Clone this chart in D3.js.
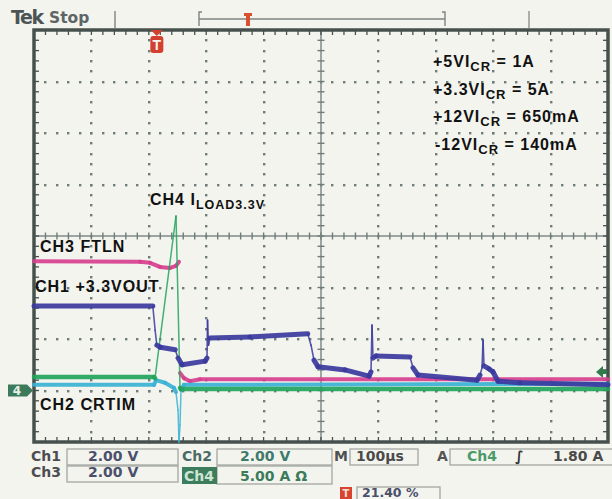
<!DOCTYPE html>
<html><head><meta charset="utf-8">
<script src="https://cdn.jsdelivr.net/npm/d3@7/dist/d3.min.js"></script>
<style>body{margin:0;background:#f4f4ee;}svg{display:block}</style>
</head><body><svg id="scope" width="612" height="499"></svg>
<script>
// Time in µs across the 10 divisions (100 µs/div), amplitude in screen divisions (-4..+4)
const ch1Time = [0,207,211,214,220,246,251,258,298,301.4,302.3,304,306.6,376,477,482.6,487.8,494.8,541.8,583.6,587.1,588.9,590.6,595.8,655,660.3,669,771.8,777,780.5,782.3,784,792.7,799.7,808.4,846.7,1000];
const ch1Div  = [-1.36,-1.36,-1.83,-2.12,-2.16,-2.21,-2.37,-2.5,-2.43,-2.37,-1.63,-2.12,-1.98,-1.96,-1.9,-2.12,-2.41,-2.54,-2.6,-2.72,-2.64,-1.73,-2.37,-2.33,-2.35,-2.56,-2.7,-2.8,-2.7,-2.56,-2.02,-2.52,-2.58,-2.64,-2.82,-2.85,-2.89];
const ch3Time = [0,184.7,202.1,219.5,237,247.4,252.6,253.5,254.4,261.3,271.8,289.2,1000];
const ch3Div  = [-0.49,-0.5,-0.52,-0.6,-0.62,-0.58,-0.5,NaN,-2.66,-2.76,-2.82,-2.78,-2.78];
const ch2Time = [0,209,212.5,228.2,243.9,247.4,250.9,252.6,254.4,256.1,261.3,1000];
const ch2Div  = [-2.89,-2.89,-2.8,-2.85,-2.95,-3.03,-3.38,-4.0,-3.67,-2.99,-2.89,-2.87];
const ch4Time = [0,209,210.8,247.4,254.4,256,1000];
const ch4Div  = [-2.74,-2.74,-2.76,0.39,-2.95,-2.97,-2.97];
const triggerPct = 21.40;
const ch4GroundDiv = -3;
const triggerLevelDiv = -3 + 1.80/5.00;
const timeDivs = d3.range(0, 1001, 100);
const ampDivs = d3.range(-4, 5, 1);

const svg = d3.select("#scope");
svg.append("rect").attr("width",612).attr("height",499).attr("fill","#f4f4ee");
const xs = d3.scaleLinear().domain([0,1000]).range([34,608]);
const ys = d3.scaleLinear().domain([-4,4]).range([442,30]);
const gridCol = "#6f7d7a";
const frameCol = "#46514e";

const minorT = d3.range(0, 1000.1, 20);
const minorA = d3.range(-20, 21, 1).map(k => k/5);

// grid dots
const dots = [];
timeDivs.filter(t => t>0 && t<1000 && t!==500).forEach(t => minorA.forEach(a => dots.push([t,a])));
ampDivs.filter(a => a>-4 && a<4 && a!==0).forEach(a => minorT.forEach(t => dots.push([t,a])));
const gridG = svg.append("g").attr("class","grid");
gridG.selectAll("rect.dot").data(dots).join("rect").attr("class","dot")
  .attr("x", d => Math.round(xs(d[0]))-1).attr("y", d => Math.round(ys(d[1]))-1).attr("width",2.4).attr("height",2.4).attr("fill",gridCol);

// center axes with ticks
gridG.append("line").attr("x1",xs(0)).attr("x2",xs(1000)).attr("y1",ys(0)).attr("y2",ys(0)).attr("stroke","#7f8b88").attr("stroke-width",1.5);
gridG.append("line").attr("x1",xs(500)).attr("x2",xs(500)).attr("y1",ys(-4)).attr("y2",ys(4)).attr("stroke","#7f8b88").attr("stroke-width",1.5);
const tickSegs = [];
minorT.forEach(t => {
  tickSegs.push([xs(t), ys(0)-3.5, xs(t), ys(0)+3.5, 1.4, "#6f7d7a"]);
  tickSegs.push([xs(t), ys(4), xs(t), ys(4)+5, 1.3, frameCol]);
  tickSegs.push([xs(t), ys(-4), xs(t), ys(-4)-5, 1.3, frameCol]);
});
minorA.forEach(a => {
  tickSegs.push([xs(500)-3.5, ys(a), xs(500)+3.5, ys(a), 1.4, "#6f7d7a"]);
  tickSegs.push([xs(0), ys(a), xs(0)+5, ys(a), 1.3, frameCol]);
  tickSegs.push([xs(1000), ys(a), xs(1000)-5, ys(a), 1.3, frameCol]);
});
gridG.selectAll("line.tk").data(tickSegs).join("line").attr("class","tk")
  .attr("x1",d=>d[0]).attr("y1",d=>d[1]).attr("x2",d=>d[2]).attr("y2",d=>d[3])
  .attr("stroke-width",d=>d[4]).attr("stroke",d=>d[5]);

// frame
svg.append("rect").attr("x",xs(0)).attr("y",ys(4)).attr("width",xs(1000)-xs(0)).attr("height",ys(-4)-ys(4))
  .attr("fill","none").attr("stroke",frameCol).attr("stroke-width",3.5);

// traces
function drawTrace(times, vals, color, thick, thin) {
  const segs = [];
  for (let i=0;i<times.length-1;i++){
    if (isNaN(vals[i])||isNaN(vals[i+1])) continue;
    const x1=xs(times[i]),x2=xs(times[i+1]),y1=ys(vals[i]),y2=ys(vals[i+1]);
    const steep = Math.abs(y2-y1) > 2.5*Math.abs(x2-x1) && Math.abs(y2-y1)>6;
    segs.push({x1,x2,y1,y2,steep});
  }
  svg.append("g").selectAll("line").data(segs).join("line")
    .attr("x1",d=>d.x1).attr("y1",d=>d.y1).attr("x2",d=>d.x2).attr("y2",d=>d.y2)
    .attr("stroke",color).attr("stroke-width",d=>d.steep?thin:thick).attr("stroke-linecap","round")
    .attr("stroke-opacity",d=>d.steep?0.85:0.92);
}
drawTrace(ch3Time, ch3Div, "#d63f8e", 4, 1.5);
drawTrace(ch2Time, ch2Div, "#3ab2d4", 4, 1.5);
drawTrace(ch4Time, ch4Div, "#22a45c", 4.5, 1.5);
drawTrace(ch1Time, ch1Div, "#3a3a9e", 5, 1.6);

// trigger position marker
const tx = xs(triggerPct*10);
svg.append("path").attr("d",`M${tx-6},${ys(4)} L${tx+6},${ys(4)} L${tx},${ys(4)+6} Z`).attr("fill","#d3402f");
svg.append("rect").attr("x",tx-6.5).attr("y",ys(4)+6).attr("width",13).attr("height",17).attr("rx",3).attr("fill","#d3402f");
svg.append("text").attr("x",tx).attr("y",ys(4)+20).attr("text-anchor","middle").attr("fill","#f4f4ee")
  .attr("font-family","Liberation Sans, Arial, sans-serif").attr("font-weight","bold").attr("font-size",14).text("T");
// CH4 ground marker
const gy = ys(ch4GroundDiv);
svg.append("path").attr("d",`M8,${gy-6} L27,${gy-6} L33,${gy} L27,${gy+6} L8,${gy+6} Z`).attr("fill","#3d7a5c");
svg.append("text").attr("x",17).attr("y",gy+4.5).attr("text-anchor","middle").attr("fill","#e6f0e8")
  .attr("font-family","DejaVu Sans, sans-serif").attr("font-weight","bold").attr("font-size",12).text("4");
// trigger level arrow
const tly = ys(triggerLevelDiv);
svg.append("path").attr("d",`M596,${tly} L603,${tly-6} L603,${tly-2} L607,${tly-2} L607,${tly+2} L603,${tly+2} L603,${tly+6} Z`).attr("fill","#2f7d4c");

// top status bar
const bar = svg.append("g").attr("font-family","DejaVu Sans, sans-serif").attr("font-weight","bold");
bar.append("text").attr("x",11).attr("y",24).attr("font-size",19).attr("letter-spacing",-1.4).attr("fill","#4c5456").text("Tek");
bar.append("text").attr("x",49).attr("y",23).attr("font-size",15.5).attr("fill","#5d6666").text("Stop");
bar.append("line").attr("x1",115).attr("x2",115).attr("y1",11).attr("y2",28).attr("stroke","#777").attr("stroke-width",1.3);
bar.append("line").attr("x1",529).attr("x2",529).attr("y1",11).attr("y2",28).attr("stroke","#888").attr("stroke-width",1.3);
bar.append("path").attr("d","M202,12 L199,12 L199,26 M199,19 L445,19 M442,12 L445,12 L445,26").attr("fill","none").attr("stroke","#7c8482").attr("stroke-width",1.4);
bar.append("path").attr("d","M244,13 L252,13 L252,16 L250,16 L250,26 L246,26 L246,16 L244,16 Z").attr("fill","#d8502f");

// annotations
function rich(xp, yp, parts, size, subSize) {
  const t = svg.append("text").attr("x",xp).attr("y",yp)
    .attr("font-family","Liberation Sans, Arial, sans-serif").attr("font-weight","bold")
    .attr("font-size",size).attr("letter-spacing",1).attr("fill","#111");
  parts.forEach(p => {
    const s = t.append("tspan").text(p[0]);
    if (p[1]==="sub") s.attr("font-size",subSize).attr("dy",4);
    if (p[1]==="back") s.attr("dy",-4);
  });
}
rich(433, 67, [["+5VI"],["CR","sub"],[" = 1A","back"]], 16, 13);
rich(433, 95, [["+3.3VI"],["CR","sub"],[" = 5A","back"]], 16, 13);
rich(433, 122, [["+12VI"],["CR","sub"],[" = 650mA","back"]], 16, 13);
rich(435, 150, [["-12VI"],["CR","sub"],[" = 140mA","back"]], 16, 13);
rich(150, 205, [["CH4 I"],["LOAD3.3V","sub"]], 16, 12.5);
rich(40, 252, [["CH3 FTLN"]], 16, 12);
rich(35, 292, [["CH1 +3.3VOUT"]], 16, 12);
rich(40, 410, [["CH2 CRTIM"]], 16, 12);

// bottom readout
const rd = svg.append("g").attr("font-family","DejaVu Sans, sans-serif").attr("font-weight","bold").attr("font-size",14);
const boxCol = "#a3a7a3";
[[67,449,111,16],[67,466,111,16],[217,449,115,16],[217,466,115,18],[350,449,68,16],[450,449,165,16],[357,487,83,16]]
  .forEach(b => rd.append("rect").attr("x",b[0]).attr("y",b[1]).attr("width",b[2]).attr("height",b[3]).attr("fill","none").attr("stroke",boxCol).attr("stroke-width",1.3));
rd.append("rect").attr("x",182).attr("y",467).attr("width",35).attr("height",17).attr("fill","#3d7d5d");
rd.append("rect").attr("x",340).attr("y",487).attr("width",12).attr("height",13).attr("fill","#d8442f");
rd.append("text").attr("x",346).attr("y",497).attr("text-anchor","middle").attr("font-size",10).attr("fill","#f3e0d8").text("T");
const txt = (xp, yp, s, c) => rd.append("text").attr("x",xp).attr("y",yp).attr("fill",c).text(s);
txt(31,460.5,"Ch1","#4d4d50");
txt(88,460.5,"2.00 V","#4a4f6c");
txt(31,477,"Ch3","#4d4d50");
txt(88,477,"2.00 V","#4a4f6c");
txt(182,460.5,"Ch2","#4a6a66");
txt(240,460.5,"2.00 V","#3e7a6c");
txt(184,480.5,"Ch4","#cfe6d6");
txt(240,480.5,"5.00 A Ω","#3b7b5b");
txt(334,460.5,"M","#505050");
txt(356,460.5,"100µs","#4a4a4a");
txt(437,460.5,"A","#555");
txt(467,460.5,"Ch4","#4a9a6a");
txt(515,460.5,"∫","#333");
txt(553,460.5,"1.80 A","#4a4a4a");
rd.append("text").attr("x",362).attr("y",496.5).attr("font-size",12.5).attr("fill","#4a4f6c").text("21.40 %");
</script></body></html>
